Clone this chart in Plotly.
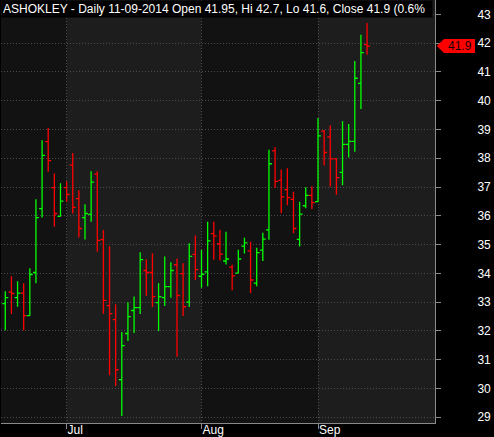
import plotly.graph_objects as go

# ---------------- data ----------------
dates = [
    "2014-06-17", "2014-06-18", "2014-06-19", "2014-06-20", "2014-06-23", "2014-06-24",
    "2014-06-25", "2014-06-26", "2014-06-27", "2014-06-30",
    "2014-07-01", "2014-07-02", "2014-07-03", "2014-07-04", "2014-07-07", "2014-07-08",
    "2014-07-09", "2014-07-10", "2014-07-11", "2014-07-14", "2014-07-15", "2014-07-16",
    "2014-07-17", "2014-07-18", "2014-07-21", "2014-07-22", "2014-07-23", "2014-07-24",
    "2014-07-25", "2014-07-28", "2014-07-30", "2014-07-31",
    "2014-08-01", "2014-08-04", "2014-08-05", "2014-08-06", "2014-08-07", "2014-08-08",
    "2014-08-11", "2014-08-12", "2014-08-13", "2014-08-14", "2014-08-18", "2014-08-19",
    "2014-08-20", "2014-08-21", "2014-08-22", "2014-08-25", "2014-08-26", "2014-08-27",
    "2014-08-28",
    "2014-09-01", "2014-09-02", "2014-09-03", "2014-09-04", "2014-09-05", "2014-09-08",
    "2014-09-09", "2014-09-10", "2014-09-11",
]
open_ = [32.95, 33.35, 33.16, 33.31, 32.53, 34.03, 36.25, 38.58, 36.98, 35.98,
         36.98, 37.76, 36.60, 35.94, 36.05, 37.45, 35.17, 32.88, 32.39, 30.31,
         31.91, 32.71, 32.81, 34.10, 34.03, 32.98, 33.16, 33.54, 34.30, 33.99,
         33.00, 34.66, 33.90, 34.05, 35.38, 35.03, 34.43, 34.22, 34.01, 34.95,
         34.78, 33.66, 34.81, 35.51, 38.26, 37.23, 36.91, 36.57, 35.18, 36.35,
         36.71, 36.49, 38.94, 38.74, 37.98, 37.51, 38.48, 38.59, 40.60, 41.95]
high = [33.38, 33.90, 33.73, 33.66, 34.18, 36.58, 38.63, 39.05, 37.47, 37.13,
        37.20, 38.18, 36.89, 36.40, 37.55, 37.55, 35.51, 34.94, 32.93, 31.96,
        33.00, 33.20, 34.73, 34.49, 34.70, 33.66, 34.59, 34.39, 34.52, 34.35,
        35.05, 35.32, 34.81, 35.79, 35.79, 35.52, 35.45, 34.30, 34.82, 35.24,
        35.10, 34.89, 35.41, 38.30, 38.38, 37.61, 37.65, 36.84, 36.49, 36.99,
        37.03, 39.40, 38.98, 39.15, 37.99, 39.29, 39.19, 41.38, 42.29, 42.70]
low = [32.02, 32.59, 32.84, 32.02, 32.53, 33.66, 35.94, 37.53, 35.62, 35.98,
       36.49, 36.08, 35.25, 35.18, 35.79, 34.75, 32.60, 30.46, 30.09, 29.04,
       31.65, 31.93, 32.59, 33.22, 32.83, 32.00, 32.87, 33.15, 31.10, 32.52,
       32.83, 33.77, 33.50, 33.55, 34.47, 34.45, 34.31, 33.41, 34.01, 34.69,
       33.32, 33.55, 34.43, 35.17, 36.97, 36.09, 36.37, 35.39, 34.93, 36.26,
       36.24, 36.49, 37.76, 37.01, 36.73, 37.06, 38.03, 38.23, 39.71, 41.60]
close = [33.16, 33.30, 33.31, 32.53, 33.96, 35.94, 38.10, 37.92, 36.08, 36.51,
         36.74, 36.29, 35.56, 36.08, 37.17, 35.15, 33.06, 32.60, 30.65, 31.49,
         32.50, 32.81, 34.48, 34.03, 33.19, 33.19, 33.54, 34.10, 33.23, 32.84,
         34.59, 34.13, 33.97, 35.13, 35.30, 34.67, 34.50, 33.91, 34.50, 35.06,
         33.77, 34.72, 35.19, 37.81, 37.20, 36.66, 36.63, 35.56, 36.06, 36.71,
         36.46, 38.78, 38.20, 37.98, 37.33, 38.48, 38.59, 40.78, 41.67, 41.90]

month_ticks = ["2014-07-01", "2014-08-01", "2014-09-01"]
month_labels = ["Jul", "Aug", "Sep"]
y_ticks = list(range(29, 44))
title_text = "ASHOKLEY - Daily 11-09-2014 Open 41.95, Hi 42.7, Lo 41.6, Close 41.9 (0.6%"
last_close = close[-1]

# ---------------- layout constants ----------------
W, H = 494, 437
ML, MR, MT, MB = 1, 59, 0, 14
plot_w = W - ML - MR
plot_h = H - MT - MB
y_min, y_max = 28.80, 43.50
x_min, x_max = -0.70, 70.08

DARK = "#121212"
LIGHT = "#1d1d1d"
GRID = "#4c4c4c"
AXIS = "#8a8a8a"
GREEN = "#00ff00"
RED = "#ff0000"

fig = go.Figure()
fig.add_trace(go.Ohlc(
    x=dates, open=open_, high=high, low=low, close=close,
    increasing=dict(line=dict(color=GREEN, width=1.3)),
    decreasing=dict(line=dict(color=RED, width=1.3)),
    tickwidth=0.48, showlegend=False, hoverinfo="skip",
))

shapes = []
# lighter month bands (Jul, Sep)
idx = [dates.index(t) for t in month_ticks]
band_edges = [(idx[0], idx[1]), (idx[2], x_max + 1)]
for a, b in band_edges:
    shapes.append(dict(type="rect", xref="x", yref="paper", x0=a, x1=b, y0=0, y1=1,
                       fillcolor=LIGHT, line=dict(width=0), layer="below"))

# last-price tag on the right axis
def py_paper(v):
    return (v - y_min) / (y_max - y_min)

def px_paper(px):
    return (px - ML) / plot_w

yc = py_paper(last_close)
hh = 7.0 / plot_h
xp, xs, xe = px_paper(436.7), px_paper(444.0), px_paper(475.0)
shapes.append(dict(
    type="path", xref="paper", yref="paper",
    path=f"M {xp},{yc} L {xs},{yc + hh} L {xe},{yc + hh} L {xe},{yc - hh} L {xs},{yc - hh} Z",
    fillcolor="#ff0000", line=dict(width=0), layer="above"))

annotations = [
    dict(xref="paper", yref="paper", x=px_paper(459.5), y=yc, text=f"{last_close:.1f}",
         showarrow=False, xanchor="center", yanchor="middle",
         font=dict(family="Liberation Sans", size=12, color="#1a0000")),
    dict(xref="paper", yref="paper", x=0, y=1, xanchor="left", yanchor="top",
         text=title_text, showarrow=False, bgcolor="#000000", borderpad=1,
         width=428, align="left",
         font=dict(family="Liberation Sans", size=12, color="#ffffff")),
]

fig.update_layout(
    width=W, height=H,
    margin=dict(l=ML, r=MR, t=MT, b=MB, pad=0, autoexpand=False),
    paper_bgcolor="#000000", plot_bgcolor=DARK,
    font=dict(family="Liberation Sans", size=12, color="#ffffff"),
    shapes=shapes, annotations=annotations,
    showlegend=False,
    xaxis=dict(
        type="category", range=[x_min, x_max], automargin=False,
        rangeslider=dict(visible=False),
        tickmode="array", tickvals=month_ticks, ticktext=month_labels,
        ticks="outside", ticklen=5, tickcolor=AXIS,
        ticklabelposition="outside right", ticklabelstandoff=-4,
        ticklabeloverflow="allow",
        showline=True, linecolor=AXIS, linewidth=1,
        showgrid=True, gridcolor=GRID, griddash="1px,2px", gridwidth=1,
        zeroline=False,
        tickfont=dict(family="Liberation Sans", size=12, color="#ffffff"),
    ),
    yaxis=dict(
        side="right", range=[y_min, y_max], automargin=False,
        tickmode="array", tickvals=y_ticks, ticktext=[str(v) for v in y_ticks],
        ticks="outside", ticklen=5, tickcolor=AXIS,
        ticklabelstandoff=34, ticklabeloverflow="allow",
        showline=True, linecolor=AXIS, linewidth=1, mirror=False,
        showgrid=True, gridcolor=GRID, griddash="1px,2px", gridwidth=1,
        zeroline=False,
        tickfont=dict(family="Liberation Sans", size=12, color="#ffffff"),
    ),
)

fig.write_html(
    "out.html",
    config={"displayModeBar": False},
    post_script="document.body.style.margin='0';document.body.style.background='#000';",
)
